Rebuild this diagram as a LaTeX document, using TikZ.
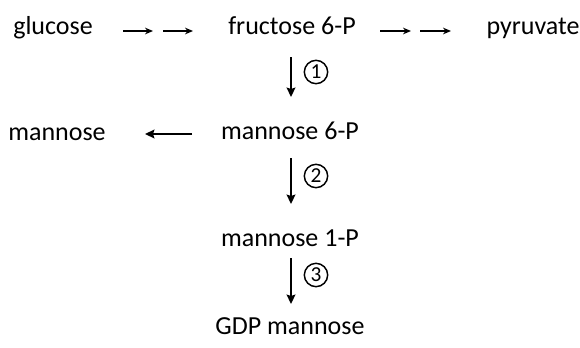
\documentclass[tikz,border=0pt]{standalone}
\usepackage{fontspec}
\setmainfont{Carlito}
\usetikzlibrary{arrows.meta}
\begin{document}
\begin{tikzpicture}[x=0.75pt,y=-0.75pt,
  lbl/.style={font=\fontsize{19.5}{22}\selectfont, inner sep=0pt, anchor=base},
  thin arrow/.style={line width=1.1pt, -{Stealth[length=6pt,width=5pt,inset=2pt]}},
  thick arrow/.style={line width=1.9pt, -{Stealth[length=7pt,width=6.5pt,inset=1pt]}},
  num/.style={draw, circle, line width=1.1pt, minimum size=17.5pt, inner sep=0pt, font=\fontsize{16}{18}\selectfont}]
\useasboundingbox (0,0) rectangle (580,347);
\node[lbl] (glc) at (53,34) {glucose};
\node[lbl] (f6p) at (292,34) {fructose 6-P};
\node[lbl] (pyr) at (533,34) {pyruvate};
\node[lbl] (man) at (57,140) {mannose};
\node[lbl] (m6p) at (290,139) {mannose 6-P};
\node[lbl] (m1p) at (290,246) {mannose 1-P};
\node[lbl] (gdp) at (290,334) {GDP mannose};
\coordinate (a1s) at (123,31); \coordinate (a1e) at (153,31);
\coordinate (a2s) at (163,31); \coordinate (a2e) at (193,31);
\coordinate (a3s) at (380,31); \coordinate (a3e) at (411,31);
\coordinate (a4s) at (420,31); \coordinate (a4e) at (451,31);
\draw[thin arrow] (a1s) -- (a1e);
\draw[thin arrow] (a2s) -- (a2e);
\draw[thin arrow] (a3s) -- (a3e);
\draw[thin arrow] (a4s) -- (a4e);
\coordinate (mS) at (192,134); \coordinate (mE) at (145,134);
\draw[thick arrow] (mS) -- (mE);
\coordinate (v1s) at (291,57); \coordinate (v1e) at (291,97);
\coordinate (v2s) at (291,158); \coordinate (v2e) at (291,204);
\coordinate (v3s) at (291,258); \coordinate (v3e) at (291,304);
\draw[thick arrow] (v1s) -- (v1e);
\draw[thick arrow] (v2s) -- (v2e);
\draw[thick arrow] (v3s) -- (v3e);
\node[num] (n1) at (316,72) {1};
\node[num] (n2) at (316,176) {2};
\node[num] (n3) at (316,275) {3};
\end{tikzpicture}
\end{document}
